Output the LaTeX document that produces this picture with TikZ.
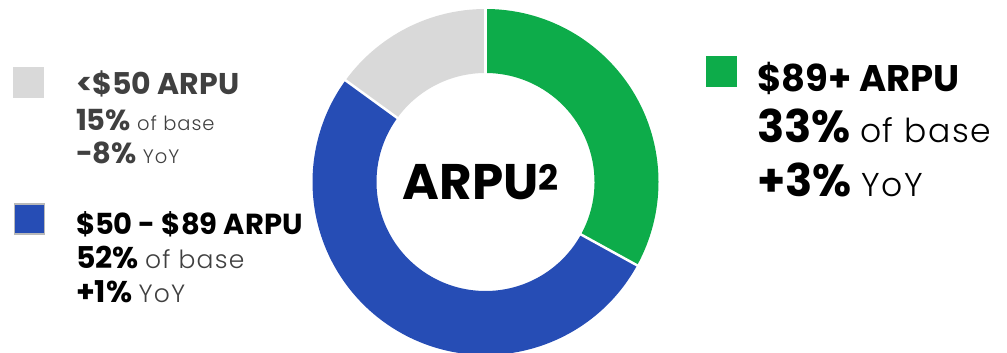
\documentclass[tikz,border=0pt]{standalone}
\usepackage{fontspec}
\setmainfont{Poppins}[BoldFont={Poppins Bold}]
\newfontfamily\lightfont{Poppins Light}[LetterSpace=5]
\definecolor{segGreen}{HTML}{0DAC4A}
\definecolor{segBlue}{HTML}{264DB5}
\definecolor{segGray}{HTML}{D9D9D9}
\definecolor{txtGray}{HTML}{404040}
\tikzset{
  lbl/.style={anchor=base west, inner sep=0pt, outer sep=0pt},
  swatch/.style={minimum width=31pt, minimum height=31pt, inner sep=0pt, anchor=north west}
}
\newcommand{\lt}[2]{{\fontsize{#1}{#1}\lightfont\mdseries #2}}
\begin{document}
\begin{tikzpicture}[x=1pt,y=1pt]
\useasboundingbox (0,0) rectangle (1007,353);
\coordinate (c) at (485.5,171);
% donut segments
\fill[segGreen] ([shift={(c)}]90:173) arc[start angle=90,end angle=-28.8,radius=173]
   -- ([shift={(c)}]-28.8:109) arc[start angle=-28.8,end angle=90,radius=109] -- cycle;
\fill[segBlue] ([shift={(c)}]-28.8:173) arc[start angle=-28.8,end angle=-216,radius=173]
   -- ([shift={(c)}]144:109) arc[start angle=144,end angle=331.2,radius=109] -- cycle;
\fill[segGray] ([shift={(c)}]144:173) arc[start angle=144,end angle=90,radius=173]
   -- ([shift={(c)}]90:109) arc[start angle=90,end angle=144,radius=109] -- cycle;
\foreach \a in {90,-28.8,144}
  \draw[white, line width=2.5pt] ([shift={(c)}]\a:105) -- ([shift={(c)}]\a:178);
% centre title
\node[anchor=base, inner sep=0pt] (title) at (481,153) {\fontsize{50}{50}\bfseries ARPU\textsuperscript{2}};
% legend swatches
\node[swatch, fill=segGray] (sw1) at (13,286) {};
\node[swatch, fill=segBlue, draw=gray!55, line width=1.5pt, minimum width=30pt, minimum height=30pt] (sw2) at (13.5,149.5) {};
\node[swatch, fill=segGreen] (sw3) at (706,297) {};
% left block 1
\node[lbl, text=txtGray] (l1a) at (76,258) {\fontsize{30}{30}\bfseries <\$50 ARPU};
\node[lbl, text=txtGray] (l1b) at (76,222) {\fontsize{29}{29}\bfseries 15\%\ \lt{19.5}{of base}};
\node[lbl, text=txtGray] (l1c) at (76,189) {\fontsize{29}{29}\bfseries -8\%\ \lt{19.5}{YoY}};
% left block 2
\node[lbl, text=black] (l2a) at (76,118) {\fontsize{29}{29}\bfseries \$50 - \$89 ARPU};
\node[lbl, text=black] (l2b) at (76,84) {\fontsize{30}{30}\bfseries 52\%\ \textcolor{txtGray}{\lt{25}{of base}}};
\node[lbl, text=black] (l2c) at (76,50) {\fontsize{30}{30}\bfseries +1\%\ \textcolor{txtGray}{\lt{25}{YoY}}};
% right block
\node[lbl, text=black] (r1) at (757,261) {\fontsize{37}{37}\bfseries \$89+ ARPU};
\node[lbl, text=black] (r2) at (757,210) {\fontsize{45}{45}\bfseries 33\%\ \lt{33}{of base}};
\node[lbl, text=black] (r3) at (757,156) {\fontsize{45}{45}\bfseries +3\%\ \lt{33}{YoY}};
\end{tikzpicture}
\end{document}
